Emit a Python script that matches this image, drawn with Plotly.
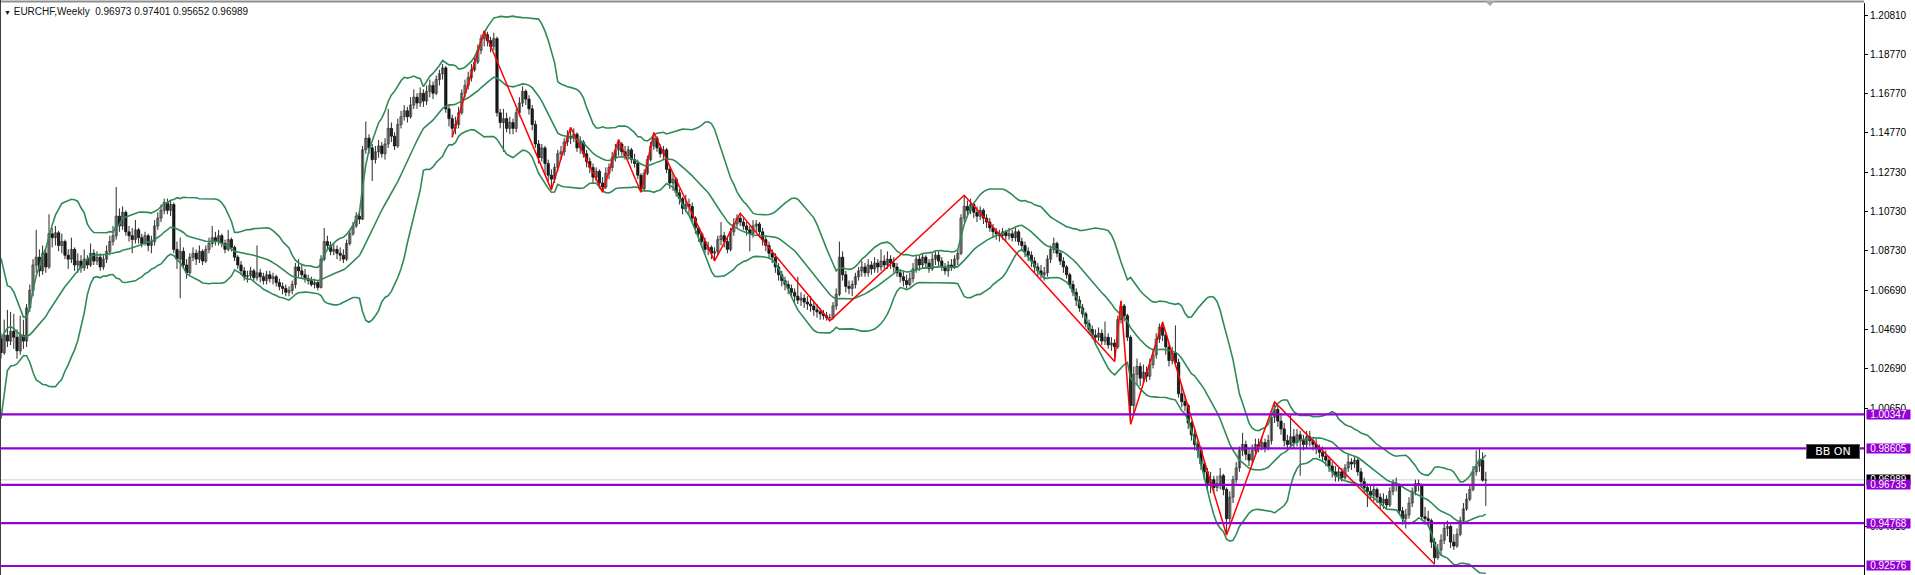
import plotly.graph_objects as go
import pandas as pd

# ---------------- data (weekly EURCHF) ----------------
opens = [
1.0425, 1.0350, 1.0440, 1.0410, 1.0460, 1.0430, 1.0360, 1.0440, 1.0410, 1.0580,
1.0670, 1.0800, 1.0840, 1.0770, 1.0860, 1.0790, 1.0960, 1.0940, 1.0965, 1.0900,
1.0920, 1.0850, 1.0830, 1.0880, 1.0800, 1.0820, 1.0785, 1.0830, 1.0800, 1.0860,
1.0820, 1.0840, 1.0790, 1.0830, 1.0870, 1.0920, 1.0950, 1.1050, 1.1000, 1.1070,
1.0970, 1.0950, 1.0930, 1.0980, 1.0940, 1.0910, 1.0950, 1.0900, 1.0920, 1.1000,
1.1040, 1.1080, 1.1120, 1.1080, 1.1110, 1.0880, 1.0830, 1.0870, 1.0800, 1.0760,
1.0840, 1.0860, 1.0830, 1.0870, 1.0820, 1.0880, 1.0910, 1.0940, 1.0920, 1.0950,
1.0910, 1.0880, 1.0930, 1.0890, 1.0840, 1.0800, 1.0770, 1.0740, 1.0745, 1.0770,
1.0735, 1.0760, 1.0740, 1.0720, 1.0750, 1.0730, 1.0740, 1.0710, 1.0690, 1.0680,
1.0660, 1.0670, 1.0700, 1.0790, 1.0770, 1.0750, 1.0730, 1.0720, 1.0700, 1.0710,
1.0685, 1.0830, 1.0920, 1.0900, 1.0870, 1.0880, 1.0860, 1.0850, 1.0830, 1.0910,
1.0960, 1.1000, 1.1050, 1.1035, 1.1390, 1.1450, 1.1400, 1.1340, 1.1380, 1.1410,
1.1370, 1.1420, 1.1500, 1.1460, 1.1410, 1.1520, 1.1560, 1.1590, 1.1560, 1.1620,
1.1660, 1.1630, 1.1680, 1.1640, 1.1690, 1.1720, 1.1680, 1.1750, 1.1780, 1.1810,
1.1600, 1.1550, 1.1500, 1.1520, 1.1580, 1.1680, 1.1720, 1.1760, 1.1800, 1.1840,
1.1900, 1.1960, 1.1980, 1.1950, 1.1920, 1.1960, 1.1580, 1.1530, 1.1550, 1.1500,
1.1530, 1.1500, 1.1580, 1.1630, 1.1690, 1.1650, 1.1600, 1.1520, 1.1420, 1.1350,
1.1400, 1.1320, 1.1260, 1.1240, 1.1300, 1.1370, 1.1380, 1.1430, 1.1460, 1.1450,
1.1470, 1.1400, 1.1430, 1.1370, 1.1330, 1.1300, 1.1250, 1.1280, 1.1220, 1.1200,
1.1270, 1.1300, 1.1350, 1.1390, 1.1420, 1.1380, 1.1360, 1.1390, 1.1340, 1.1320,
1.1260, 1.1190, 1.1270, 1.1340, 1.1410, 1.1450, 1.1400, 1.1370, 1.1390, 1.1290,
1.1220, 1.1240, 1.1170, 1.1140, 1.1090, 1.1110, 1.1100, 1.1040, 1.0990, 1.0960,
1.0920, 1.0880, 1.0890, 1.0860, 1.0870, 1.0930, 1.0950, 1.0920, 1.0880, 1.0970,
1.1010, 1.1040, 1.1020, 1.1000, 1.0980, 1.0960, 1.1000, 1.1010, 1.0970, 1.0930,
1.0900, 1.0860, 1.0840, 1.0790, 1.0750, 1.0720, 1.0700, 1.0680, 1.0660, 1.0640,
1.0620, 1.0630, 1.0610, 1.0600, 1.0590, 1.0570, 1.0560, 1.0550, 1.0540, 1.0530,
1.0530, 1.0590, 1.0650, 1.0840, 1.0750, 1.0690, 1.0680, 1.0700, 1.0740, 1.0770,
1.0790, 1.0760, 1.0800, 1.0780, 1.0810, 1.0790, 1.0820, 1.0800, 1.0830, 1.0810,
1.0790, 1.0760, 1.0740, 1.0720, 1.0700, 1.0730, 1.0780, 1.0830, 1.0800, 1.0840,
1.0810, 1.0780, 1.0830, 1.0850, 1.0820, 1.0790, 1.0770, 1.0800, 1.0790, 1.0830,
1.0860, 1.1040, 1.1100, 1.1080, 1.1110, 1.1070, 1.1050, 1.1080, 1.1040, 1.1020,
1.0990, 1.0970, 1.0960, 1.0950, 1.0970, 1.0950, 1.0960, 1.0940, 1.0970, 1.0920,
1.0900, 1.0870, 1.0850, 1.0820, 1.0790, 1.0770, 1.0750, 1.0760, 1.0830, 1.0880,
1.0910, 1.0860, 1.0820, 1.0790, 1.0750, 1.0700, 1.0660, 1.0620, 1.0580, 1.0550,
1.0500, 1.0470, 1.0440, 1.0430, 1.0450, 1.0410, 1.0430, 1.0390, 1.0400, 1.0380,
1.0520, 1.0590, 1.0540, 1.0430, 1.0080, 1.0240, 1.0280, 1.0220, 1.0250, 1.0230,
1.0290, 1.0340, 1.0420, 1.0480, 1.0440, 1.0380, 1.0310, 1.0350, 1.0300, 1.0140,
1.0100, 1.0080, 0.9990, 0.9930, 0.9880, 0.9850, 0.9780, 0.9740, 0.9680, 0.9700,
0.9660, 0.9680, 0.9720, 0.9650, 0.9500, 0.9610, 0.9700, 0.9760, 0.9850, 0.9880,
0.9830, 0.9800, 0.9850, 0.9880, 0.9870, 0.9890, 0.9860, 0.9900, 1.0020, 1.0060,
1.0000, 0.9960, 0.9900, 0.9880, 0.9920, 0.9890, 0.9930, 0.9900, 0.9880, 0.9920,
0.9900, 0.9880, 0.9860, 0.9840, 0.9820, 0.9800, 0.9770, 0.9740, 0.9720, 0.9740,
0.9710, 0.9760, 0.9790, 0.9780, 0.9800, 0.9740, 0.9690, 0.9660, 0.9640, 0.9620,
0.9650, 0.9610, 0.9580, 0.9600, 0.9570, 0.9640, 0.9680, 0.9670, 0.9540, 0.9500,
0.9520, 0.9580, 0.9640, 0.9680, 0.9670, 0.9510, 0.9500, 0.9490, 0.9380, 0.9300,
0.9340, 0.9390, 0.9450, 0.9460, 0.9380, 0.9360, 0.9420, 0.9490, 0.9550, 0.9600,
0.9650, 0.9740, 0.9770, 0.9800, 0.96973]

highs = [
1.0450, 1.0520, 1.0570, 1.0560, 1.0550, 1.0470, 1.0540, 1.0520, 1.0600, 1.0700,
1.0830, 1.0980, 1.0880, 1.0900, 1.0880, 1.1060, 1.0990, 1.1000, 1.0975, 1.0960,
1.0930, 1.0880, 1.0940, 1.0890, 1.0860, 1.0850, 1.0880, 1.0850, 1.0910, 1.0880,
1.0870, 1.0860, 1.0850, 1.0900, 1.0950, 1.1000, 1.1200, 1.1090, 1.1100, 1.1080,
1.1000, 1.0990, 1.1030, 1.0990, 1.0960, 1.0970, 1.0960, 1.0950, 1.1030, 1.1070,
1.1110, 1.1140, 1.1140, 1.1130, 1.1120, 1.0920, 1.0940, 1.0890, 1.0830, 1.0860,
1.0890, 1.0880, 1.0900, 1.0880, 1.0900, 1.0940, 1.1000, 1.0970, 1.0980, 1.0960,
1.0930, 1.0980, 1.0940, 1.0900, 1.0850, 1.0820, 1.0790, 1.0770, 1.0790, 1.0780,
1.0900, 1.0780, 1.0760, 1.0770, 1.0770, 1.0760, 1.0750, 1.0730, 1.0710, 1.0700,
1.0690, 1.0720, 1.0810, 1.0830, 1.0800, 1.0780, 1.0750, 1.0740, 1.0730, 1.0720,
1.0850, 1.0990, 1.0950, 1.0920, 1.0910, 1.0900, 1.0890, 1.0880, 1.0930, 1.0980,
1.1020, 1.1070, 1.1080, 1.1410, 1.1535, 1.1470, 1.1420, 1.1410, 1.1440, 1.1430,
1.1450, 1.1600, 1.1530, 1.1480, 1.1550, 1.1590, 1.1620, 1.1610, 1.1660, 1.1700,
1.1680, 1.1710, 1.1700, 1.1720, 1.1750, 1.1740, 1.1770, 1.1800, 1.1830, 1.1820,
1.1620, 1.1570, 1.1560, 1.1610, 1.1700, 1.1750, 1.1790, 1.1830, 1.1870, 1.1930,
1.1980, 1.2000, 1.1995, 1.1970, 1.1990, 1.1970, 1.1600, 1.1600, 1.1580, 1.1560,
1.1550, 1.1600, 1.1660, 1.1715, 1.1700, 1.1670, 1.1620, 1.1540, 1.1440, 1.1420,
1.1410, 1.1340, 1.1290, 1.1320, 1.1390, 1.1410, 1.1450, 1.1490, 1.1505, 1.1500,
1.1480, 1.1460, 1.1440, 1.1390, 1.1350, 1.1320, 1.1300, 1.1290, 1.1250, 1.1300,
1.1320, 1.1380, 1.1420, 1.1443, 1.1430, 1.1410, 1.1410, 1.1400, 1.1370, 1.1340,
1.1270, 1.1290, 1.1360, 1.1430, 1.1479, 1.1460, 1.1420, 1.1410, 1.1400, 1.1300,
1.1270, 1.1250, 1.1190, 1.1150, 1.1160, 1.1140, 1.1120, 1.1050, 1.1000, 1.0970,
1.0940, 1.0920, 1.0900, 1.0890, 1.0950, 1.1020, 1.0970, 1.0940, 1.0990, 1.1040,
1.1060, 1.1065, 1.1040, 1.1020, 1.1000, 1.1030, 1.1030, 1.1020, 1.0990, 1.0950,
1.0920, 1.0880, 1.0860, 1.0810, 1.0770, 1.0740, 1.0720, 1.0700, 1.0680, 1.0740,
1.0660, 1.0650, 1.0640, 1.0640, 1.0610, 1.0600, 1.0580, 1.0570, 1.0560, 1.0550,
1.0610, 1.0680, 1.0920, 1.0870, 1.0770, 1.0720, 1.0720, 1.0760, 1.0790, 1.0820,
1.0810, 1.0830, 1.0820, 1.0840, 1.0830, 1.0880, 1.0850, 1.0870, 1.0850, 1.0840,
1.0810, 1.0780, 1.0770, 1.0750, 1.0760, 1.0810, 1.0850, 1.0850, 1.0860, 1.0850,
1.0830, 1.0860, 1.0870, 1.0870, 1.0840, 1.0810, 1.0820, 1.0830, 1.0850, 1.0880,
1.1060, 1.1157, 1.1130, 1.1140, 1.1120, 1.1100, 1.1100, 1.1090, 1.1060, 1.1040,
1.1010, 1.0990, 1.0980, 1.0990, 1.0980, 1.0990, 1.0980, 1.0990, 1.0980, 1.0940,
1.0920, 1.0890, 1.0870, 1.0840, 1.0810, 1.0800, 1.0790, 1.0850, 1.0900, 1.0940,
1.0920, 1.0870, 1.0840, 1.0800, 1.0760, 1.0720, 1.0680, 1.0640, 1.0600, 1.0560,
1.0520, 1.0490, 1.0470, 1.0480, 1.0470, 1.0510, 1.0450, 1.0430, 1.0420, 1.0540,
1.0616, 1.0600, 1.0550, 1.0440, 1.0280, 1.0320, 1.0300, 1.0290, 1.0280, 1.0320,
1.0370, 1.0450, 1.0500, 1.0508, 1.0450, 1.0400, 1.0380, 1.0490, 1.0320, 1.0180,
1.0130, 1.0090, 1.0000, 0.9960, 0.9900, 0.9870, 0.9800, 0.9760, 0.9740, 0.9720,
0.9720, 0.9760, 0.9730, 0.9660, 0.9640, 0.9720, 0.9790, 0.9870, 0.9940, 0.9900,
0.9860, 0.9880, 0.9910, 0.9910, 0.9920, 0.9910, 0.9930, 1.0040, 1.0098, 1.0080,
1.0040, 0.9990, 0.9930, 1.0030, 0.9960, 0.9960, 0.9950, 0.9930, 0.9950, 0.9950,
0.9920, 0.9910, 0.9880, 0.9870, 0.9850, 0.9820, 0.9790, 0.9770, 0.9760, 0.9760,
0.9780, 0.9830, 0.9810, 0.9820, 0.9810, 0.9760, 0.9710, 0.9680, 0.9670, 0.9670,
0.9660, 0.9630, 0.9630, 0.9620, 0.9660, 0.9700, 0.9710, 0.9680, 0.9560, 0.9550,
0.9610, 0.9660, 0.9700, 0.9700, 0.9680, 0.9560, 0.9540, 0.9500, 0.9400, 0.9370,
0.9420, 0.9480, 0.9490, 0.9470, 0.9420, 0.9450, 0.9510, 0.9580, 0.9630, 0.9670,
0.9770, 0.9850, 0.9860, 0.9840, 0.97401]

lows = [
1.0320, 1.0340, 1.0380, 1.0390, 1.0370, 1.0320, 1.0340, 1.0370, 1.0380, 1.0560,
1.0640, 1.0760, 1.0740, 1.0750, 1.0760, 1.0780, 1.0890, 1.0900, 1.0870, 1.0860,
1.0830, 1.0780, 1.0810, 1.0770, 1.0760, 1.0760, 1.0770, 1.0780, 1.0790, 1.0800,
1.0800, 1.0770, 1.0775, 1.0810, 1.0850, 1.0900, 1.0930, 1.0970, 1.0980, 1.0950,
1.0920, 1.0860, 1.0910, 1.0910, 1.0890, 1.0900, 1.0870, 1.0860, 1.0900, 1.0980,
1.1020, 1.1060, 1.1060, 1.1050, 1.0860, 1.0780, 1.0630, 1.0780, 1.0730, 1.0750,
1.0820, 1.0800, 1.0810, 1.0800, 1.0810, 1.0860, 1.0890, 1.0900, 1.0900, 1.0890,
1.0860, 1.0870, 1.0870, 1.0820, 1.0780, 1.0750, 1.0720, 1.0710, 1.0730, 1.0720,
1.0720, 1.0710, 1.0700, 1.0700, 1.0710, 1.0700, 1.0690, 1.0670, 1.0650, 1.0640,
1.0640, 1.0650, 1.0680, 1.0740, 1.0730, 1.0710, 1.0700, 1.0690, 1.0680, 1.0670,
1.0680, 1.0820, 1.0880, 1.0850, 1.0850, 1.0830, 1.0820, 1.0810, 1.0820, 1.0900,
1.0950, 1.0990, 1.1010, 1.1030, 1.1370, 1.1370, 1.1230, 1.1320, 1.1350, 1.1350,
1.1340, 1.1400, 1.1430, 1.1390, 1.1400, 1.1500, 1.1540, 1.1530, 1.1550, 1.1600,
1.1600, 1.1610, 1.1610, 1.1620, 1.1660, 1.1650, 1.1670, 1.1720, 1.1750, 1.1580,
1.1510, 1.1455, 1.1470, 1.1500, 1.1570, 1.1660, 1.1700, 1.1740, 1.1790, 1.1830,
1.1880, 1.1920, 1.1920, 1.1890, 1.1900, 1.1560, 1.1500, 1.1380, 1.1480, 1.1470,
1.1470, 1.1480, 1.1560, 1.1610, 1.1620, 1.1570, 1.1490, 1.1400, 1.1320, 1.1330,
1.1260, 1.1230, 1.1185, 1.1220, 1.1280, 1.1340, 1.1360, 1.1410, 1.1420, 1.1430,
1.1380, 1.1370, 1.1350, 1.1300, 1.1270, 1.1220, 1.1230, 1.1190, 1.1173, 1.1190,
1.1240, 1.1280, 1.1330, 1.1360, 1.1360, 1.1340, 1.1340, 1.1320, 1.1300, 1.1240,
1.1173, 1.1180, 1.1260, 1.1330, 1.1390, 1.1380, 1.1350, 1.1340, 1.1270, 1.1190,
1.1180, 1.1150, 1.1110, 1.1060, 1.1070, 1.1060, 1.1020, 1.0960, 1.0920, 1.0890,
1.0860, 1.0850, 1.0830, 1.0821, 1.0850, 1.0900, 1.0890, 1.0860, 1.0870, 1.0950,
1.0990, 1.1000, 1.0980, 1.0950, 1.0870, 1.0940, 1.0970, 1.0940, 1.0900, 1.0870,
1.0830, 1.0810, 1.0760, 1.0720, 1.0690, 1.0670, 1.0650, 1.0630, 1.0610, 1.0600,
1.0590, 1.0580, 1.0570, 1.0560, 1.0540, 1.0530, 1.0520, 1.0520, 1.0515, 1.0514,
1.0520, 1.0570, 1.0640, 1.0720, 1.0660, 1.0650, 1.0640, 1.0680, 1.0720, 1.0740,
1.0740, 1.0740, 1.0750, 1.0760, 1.0760, 1.0770, 1.0780, 1.0780, 1.0780, 1.0760,
1.0740, 1.0710, 1.0690, 1.0680, 1.0690, 1.0710, 1.0760, 1.0770, 1.0780, 1.0780,
1.0760, 1.0770, 1.0800, 1.0790, 1.0770, 1.0750, 1.0740, 1.0770, 1.0780, 1.0800,
1.0850, 1.1020, 1.1050, 1.1060, 1.1040, 1.1020, 1.1030, 1.1010, 1.0990, 1.0970,
1.0940, 1.0930, 1.0920, 1.0930, 1.0920, 1.0930, 1.0920, 1.0920, 1.0900, 1.0870,
1.0840, 1.0820, 1.0790, 1.0760, 1.0740, 1.0730, 1.0720, 1.0740, 1.0810, 1.0860,
1.0840, 1.0800, 1.0760, 1.0730, 1.0680, 1.0640, 1.0590, 1.0560, 1.0530, 1.0480,
1.0450, 1.0420, 1.0400, 1.0410, 1.0390, 1.0390, 1.0370, 1.0360, 1.0305, 1.0370,
1.0500, 1.0510, 1.0410, 0.9984, 1.0040, 1.0190, 1.0180, 1.0190, 1.0200, 1.0210,
1.0270, 1.0320, 1.0400, 1.0410, 1.0340, 1.0280, 1.0290, 1.0280, 1.0120, 1.0070,
1.0050, 0.9960, 0.9900, 0.9850, 0.9810, 0.9750, 0.9700, 0.9640, 0.9630, 0.9630,
0.9640, 0.9650, 0.9620, 0.9416, 0.9480, 0.9580, 0.9680, 0.9740, 0.9820, 0.9800,
0.9770, 0.9780, 0.9820, 0.9840, 0.9850, 0.9840, 0.9850, 0.9880, 0.9990, 0.9970,
0.9930, 0.9870, 0.9850, 0.9860, 0.9860, 0.9870, 0.9720, 0.9850, 0.9860, 0.9870,
0.9850, 0.9830, 0.9810, 0.9790, 0.9770, 0.9740, 0.9710, 0.9690, 0.9690, 0.9690,
0.9700, 0.9740, 0.9750, 0.9760, 0.9720, 0.9660, 0.9630, 0.9560, 0.9600, 0.9590,
0.9580, 0.9550, 0.9550, 0.9550, 0.9560, 0.9620, 0.9640, 0.9520, 0.9470, 0.9450,
0.9500, 0.9560, 0.9620, 0.9640, 0.9490, 0.9470, 0.9460, 0.9350, 0.9266, 0.9290,
0.9310, 0.9370, 0.9410, 0.9350, 0.9340, 0.9350, 0.9410, 0.9480, 0.9540, 0.9590,
0.9640, 0.9720, 0.9740, 0.9690, 0.95652]

closes = [
1.0350, 1.0440, 1.0410, 1.0460, 1.0430, 1.0360, 1.0440, 1.0410, 1.0580, 1.0670,
1.0800, 1.0840, 1.0770, 1.0860, 1.0790, 1.0960, 1.0940, 1.0965, 1.0900, 1.0920,
1.0850, 1.0830, 1.0880, 1.0800, 1.0820, 1.0785, 1.0830, 1.0800, 1.0860, 1.0820,
1.0840, 1.0790, 1.0830, 1.0870, 1.0920, 1.0950, 1.1050, 1.1000, 1.1070, 1.0970,
1.0950, 1.0930, 1.0980, 1.0940, 1.0910, 1.0950, 1.0900, 1.0920, 1.1000, 1.1040,
1.1080, 1.1120, 1.1080, 1.1110, 1.0880, 1.0830, 1.0870, 1.0800, 1.0760, 1.0840,
1.0860, 1.0830, 1.0870, 1.0820, 1.0880, 1.0910, 1.0940, 1.0920, 1.0950, 1.0910,
1.0880, 1.0930, 1.0890, 1.0840, 1.0800, 1.0770, 1.0740, 1.0745, 1.0770, 1.0735,
1.0760, 1.0740, 1.0720, 1.0750, 1.0730, 1.0740, 1.0710, 1.0690, 1.0680, 1.0660,
1.0670, 1.0700, 1.0790, 1.0770, 1.0750, 1.0730, 1.0720, 1.0700, 1.0710, 1.0685,
1.0830, 1.0920, 1.0900, 1.0870, 1.0880, 1.0860, 1.0850, 1.0830, 1.0910, 1.0960,
1.1000, 1.1050, 1.1035, 1.1390, 1.1450, 1.1400, 1.1340, 1.1380, 1.1410, 1.1370,
1.1420, 1.1500, 1.1460, 1.1410, 1.1520, 1.1560, 1.1590, 1.1560, 1.1620, 1.1660,
1.1630, 1.1680, 1.1640, 1.1690, 1.1720, 1.1680, 1.1750, 1.1780, 1.1810, 1.1600,
1.1550, 1.1500, 1.1520, 1.1580, 1.1680, 1.1720, 1.1760, 1.1800, 1.1840, 1.1900,
1.1960, 1.1980, 1.1950, 1.1920, 1.1960, 1.1580, 1.1530, 1.1550, 1.1500, 1.1530,
1.1500, 1.1580, 1.1630, 1.1690, 1.1650, 1.1600, 1.1520, 1.1420, 1.1350, 1.1400,
1.1320, 1.1260, 1.1240, 1.1300, 1.1370, 1.1380, 1.1430, 1.1460, 1.1450, 1.1470,
1.1400, 1.1430, 1.1370, 1.1330, 1.1300, 1.1250, 1.1280, 1.1220, 1.1200, 1.1270,
1.1300, 1.1350, 1.1390, 1.1420, 1.1380, 1.1360, 1.1390, 1.1340, 1.1320, 1.1260,
1.1190, 1.1270, 1.1340, 1.1410, 1.1450, 1.1400, 1.1370, 1.1390, 1.1290, 1.1220,
1.1240, 1.1170, 1.1140, 1.1090, 1.1110, 1.1100, 1.1040, 1.0990, 1.0960, 1.0920,
1.0880, 1.0890, 1.0860, 1.0870, 1.0930, 1.0950, 1.0920, 1.0880, 1.0970, 1.1010,
1.1040, 1.1020, 1.1000, 1.0980, 1.0960, 1.1000, 1.1010, 1.0970, 1.0930, 1.0900,
1.0860, 1.0840, 1.0790, 1.0750, 1.0720, 1.0700, 1.0680, 1.0660, 1.0640, 1.0620,
1.0630, 1.0610, 1.0600, 1.0590, 1.0570, 1.0560, 1.0550, 1.0540, 1.0530, 1.0530,
1.0590, 1.0650, 1.0840, 1.0750, 1.0690, 1.0680, 1.0700, 1.0740, 1.0770, 1.0790,
1.0760, 1.0800, 1.0780, 1.0810, 1.0790, 1.0820, 1.0800, 1.0830, 1.0810, 1.0790,
1.0760, 1.0740, 1.0720, 1.0700, 1.0730, 1.0780, 1.0830, 1.0800, 1.0840, 1.0810,
1.0780, 1.0830, 1.0850, 1.0820, 1.0790, 1.0770, 1.0800, 1.0790, 1.0830, 1.0860,
1.1040, 1.1100, 1.1080, 1.1110, 1.1070, 1.1050, 1.1080, 1.1040, 1.1020, 1.0990,
1.0970, 1.0960, 1.0950, 1.0970, 1.0950, 1.0960, 1.0940, 1.0970, 1.0920, 1.0900,
1.0870, 1.0850, 1.0820, 1.0790, 1.0770, 1.0750, 1.0760, 1.0830, 1.0880, 1.0910,
1.0860, 1.0820, 1.0790, 1.0750, 1.0700, 1.0660, 1.0620, 1.0580, 1.0550, 1.0500,
1.0470, 1.0440, 1.0430, 1.0450, 1.0410, 1.0430, 1.0390, 1.0400, 1.0380, 1.0520,
1.0590, 1.0540, 1.0430, 1.0080, 1.0240, 1.0280, 1.0220, 1.0250, 1.0230, 1.0290,
1.0340, 1.0420, 1.0480, 1.0440, 1.0380, 1.0310, 1.0350, 1.0300, 1.0140, 1.0100,
1.0080, 0.9990, 0.9930, 0.9880, 0.9850, 0.9780, 0.9740, 0.9680, 0.9700, 0.9660,
0.9680, 0.9720, 0.9650, 0.9500, 0.9610, 0.9700, 0.9760, 0.9850, 0.9880, 0.9830,
0.9800, 0.9850, 0.9880, 0.9870, 0.9890, 0.9860, 0.9900, 1.0020, 1.0060, 1.0000,
0.9960, 0.9900, 0.9880, 0.9920, 0.9890, 0.9930, 0.9900, 0.9880, 0.9920, 0.9900,
0.9880, 0.9860, 0.9840, 0.9820, 0.9800, 0.9770, 0.9740, 0.9720, 0.9740, 0.9710,
0.9760, 0.9790, 0.9780, 0.9800, 0.9740, 0.9690, 0.9660, 0.9640, 0.9620, 0.9650,
0.9610, 0.9580, 0.9600, 0.9570, 0.9640, 0.9680, 0.9670, 0.9540, 0.9500, 0.9520,
0.9580, 0.9640, 0.9680, 0.9670, 0.9510, 0.9500, 0.9490, 0.9380, 0.9300, 0.9340,
0.9390, 0.9450, 0.9460, 0.9380, 0.9360, 0.9420, 0.9490, 0.9550, 0.9600, 0.9650,
0.9740, 0.9770, 0.9800, 0.96973, 0.96989]

# closes of the 19 weeks just left of the visible window (they only feed the bands)
pre_closes = [0.9850, 0.9950, 1.0300, 1.0650, 1.0700, 1.0680, 1.0620, 1.0580, 1.0500, 1.0450,
              1.0480, 1.0420, 1.0400, 1.0450, 1.0380, 1.0420, 1.0460, 1.0400, 1.0440]

zigzag_bar = [141, 151, 172, 178, 188, 193, 200, 204, 223, 231, 259, 301, 348, 350, 353, 363, 383, 398, 448]
zigzag_price = [1.1455, 1.2000, 1.1185, 1.1505, 1.1173, 1.1443, 1.1173, 1.1479, 1.0821, 1.1065,
                1.0514, 1.1157, 1.0305, 1.0616, 0.9984, 1.0508, 0.9416, 1.0098, 0.9266]

level_prices = [1.00347, 0.98605, 0.96735, 0.94768, 0.92576]
bid_price = 0.96989
tick_values = [1.20810, 1.18770, 1.16770, 1.14770, 1.12730, 1.10730, 1.08730, 1.06690,
               1.04690, 1.02690, 1.00650, 0.94610]
title_text = "EURCHF,Weekly  0.96973 0.97401 0.95652 0.96989"

# ---------------- derived ----------------
n = len(closes)
idx = list(range(n))
bb_src = pd.Series(pre_closes + closes, index=range(-len(pre_closes), n))
bb_mid = bb_src.rolling(20).mean()
bb_sd = bb_src.rolling(20).std(ddof=0)
bb_up = bb_mid + 2 * bb_sd
bb_lo = bb_mid - 2 * bb_sd
valid = bb_mid.notna()

bull = [i for i in idx if closes[i] >= opens[i]]
bear = [i for i in idx if closes[i] < opens[i]]

wx, wy = [], []
for i in idx:
    wx += [i, i, None]
    wy += [lows[i], highs[i], None]

fig = go.Figure()
fig.add_trace(go.Scatter(x=wx, y=wy, mode="lines", line=dict(color="#2a2a2a", width=1),
                         hoverinfo="skip"))
fig.add_trace(go.Bar(x=bull, base=[opens[i] for i in bull],
                     y=[closes[i] - opens[i] for i in bull], width=0.72,
                     marker=dict(color="#c4c4c4", line=dict(color="#3a3a3a", width=0.7)),
                     hoverinfo="skip"))
fig.add_trace(go.Bar(x=bear, base=[closes[i] for i in bear],
                     y=[opens[i] - closes[i] for i in bear], width=0.72,
                     marker=dict(color="#000000", line=dict(color="#000000", width=0.7)),
                     hoverinfo="skip"))
for band in (bb_up, bb_mid, bb_lo):
    fig.add_trace(go.Scatter(x=list(band.index[valid]), y=list(band[valid]), mode="lines",
                             line=dict(color="#2E8B57", width=1.6), hoverinfo="skip"))
fig.add_trace(go.Scatter(x=zigzag_bar, y=zigzag_price, mode="lines",
                         line=dict(color="#FF0000", width=1.5), hoverinfo="skip"))

W, H = 1915, 575
ML, MR, MT, MB = 0, 51, 3, 0
PW, PH = W - ML - MR, H - MT - MB
px_per_bar = 3.2
x0 = -1 / px_per_bar
x1 = x0 + PW / px_per_bar
y_top, y_bot = 1.21425, 0.92114

shapes = []
shapes.append(dict(type="line", xref="paper", yref="y", x0=0, x1=1, y0=bid_price, y1=bid_price,
                   line=dict(color="#cfcfcf", width=1), layer="below"))
for lv in level_prices:
    shapes.append(dict(type="line", xref="paper", yref="y", x0=0, x1=1, y0=lv, y1=lv,
                       line=dict(color="#9400D3", width=2.2), layer="above"))
# chart frame
shapes.append(dict(type="line", xref="paper", yref="paper", x0=0, x1=1,
                   y0=1 + 1.5 / PH, y1=1 + 1.5 / PH, line=dict(color="#8e8e8e", width=2)))
shapes.append(dict(type="line", xref="paper", yref="paper", x0=0, x1=0, y0=0, y1=1 + 3 / PH,
                   line=dict(color="#404040", width=2)))
# chart-shift marker
tx = [1485 / PW, 1495 / PW, 1490 / PW]
ty = [1 + 2 / PH, 1 + 2 / PH, 1 - 3 / PH]
shapes.append(dict(type="path", xref="paper", yref="paper",
                   path=f"M {tx[0]} {ty[0]} L {tx[1]} {ty[1]} L {tx[2]} {ty[2]} Z",
                   fillcolor="#a8a8a8", line=dict(width=0)))

annotations = []
annotations.append(dict(xref="paper", yref="paper", x=0, y=1, xanchor="left", yanchor="top",
                        xshift=2, yshift=-1, showarrow=False,
                        text="<span style='font-size:7px'>▼</span> " + title_text.replace("  ", " \u00a0"),
                        font=dict(family="Liberation Sans", size=10, color="#111111")))
annotations.append(dict(xref="paper", yref="y", x=1 - 4 / PW, y=0.9845, xanchor="right",
                        yanchor="middle", showarrow=False, text="BB ON",
                        font=dict(family="DejaVu Sans", size=11, color="#ffffff"),
                        bgcolor="#000000", bordercolor="#555555", borderwidth=1,
                        width=52, height=13, borderpad=0))
annotations.append(dict(xref="paper", yref="y", x=1, y=bid_price, xanchor="left", yanchor="middle",
                        xshift=2, showarrow=False, text=f"{bid_price:.5f}",
                        font=dict(family="Liberation Sans", size=10, color="#ffffff"),
                        bgcolor="#000000", width=43, height=9, borderpad=0))
for lv in level_prices:
    annotations.append(dict(xref="paper", yref="y", x=1, y=lv, xanchor="left", yanchor="middle",
                            xshift=2, showarrow=False, text=f"{lv:.5f}",
                            font=dict(family="Liberation Sans", size=10, color="#ffffff"),
                            bgcolor="#9400D3", width=43, height=9, borderpad=0))

fig.update_layout(
    width=W, height=H, margin=dict(l=ML, r=MR, t=MT, b=MB, pad=0),
    paper_bgcolor="#ffffff", plot_bgcolor="#ffffff", showlegend=False,
    barmode="overlay", hovermode=False,
    xaxis=dict(range=[x0, x1], visible=False, showgrid=False, zeroline=False),
    yaxis=dict(range=[y_bot, y_top], side="right", showgrid=False, zeroline=False,
               tickvals=tick_values, ticktext=[f"{v:.5f}" for v in tick_values],
               ticks="outside", ticklen=3, tickwidth=1, tickcolor="#000000",
               showline=True, linecolor="#000000", linewidth=1,
               tickfont=dict(family="Liberation Sans", size=10, color="#000000")),
    shapes=shapes, annotations=annotations,
)

fig.write_html("out.html", config={"displayModeBar": False},
               post_script="document.body.style.margin='0';document.body.style.overflow='hidden';")
